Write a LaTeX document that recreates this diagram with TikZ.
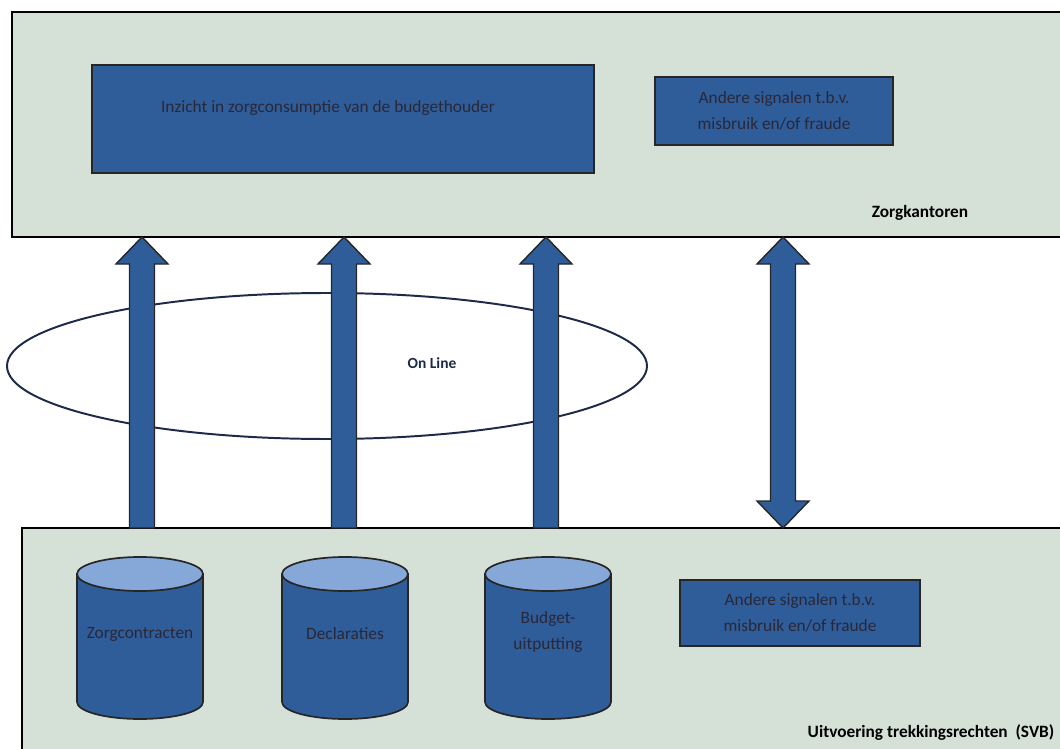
\documentclass[tikz,border=0pt]{standalone}
\usepackage{fontspec}
\setmainfont{Carlito}
\usepackage{xcolor}
\usepackage{tikz}
\usetikzlibrary{calc,fit}
\definecolor{panel}{HTML}{D5E0D6}
\definecolor{block}{HTML}{2F5D99}
\definecolor{blocktop}{HTML}{86A8D8}
\definecolor{dimtext}{HTML}{2A2738}
\definecolor{navy}{HTML}{1E2B48}
\tikzset{
  panel/.style={draw=black, line width=1.6pt, fill=panel, inner sep=0pt, outer sep=0pt},
  block/.style={draw=black!85, line width=1.2pt, fill=block, inner sep=0pt, outer sep=0pt},
  boxtxt/.style={text=dimtext, font=\fontsize{12.3}{18}\selectfont, align=center},
  title/.style={text=black, font=\bfseries\fontsize{12.3}{14}\selectfont},
  fat/.style={draw=black!85, line width=1pt, fill=block, line join=miter},
  cyl/.style={draw=black!85, line width=1.2pt, fill=block},
  cyltop/.style={draw=black!85, line width=1.2pt, fill=blocktop},
  ring/.style={draw=navy, line width=1.4pt},
}
% fat block arrows, tip at #2 (and #1)
\newcommand\fatup[2]{%
  \path[fat] ($(#1)+(-12.5,0)$) -- ($(#2)+(-12.5,27)$) -- ($(#2)+(-26,27)$) -- (#2)
    -- ($(#2)+(26,27)$) -- ($(#2)+(12.5,27)$) -- ($(#1)+(12.5,0)$) -- cycle;}
\newcommand\fatboth[2]{%
  \path[fat] (#1) -- ($(#1)+(-26,-27)$) -- ($(#1)+(-12.5,-27)$) -- ($(#2)+(-12.5,27)$)
    -- ($(#2)+(-26,27)$) -- (#2) -- ($(#2)+(26,27)$) -- ($(#2)+(12.5,27)$)
    -- ($(#1)+(12.5,-27)$) -- ($(#1)+(26,-27)$) -- cycle;}
\newcommand\dbcyl[1]{%
  \path[cyl] (#1-63,574) -- (#1-63,702) arc[start angle=180, end angle=0, x radius=63, y radius=17]
    -- (#1+63,574) -- cycle;
  \path[cyltop] (#1,574) ellipse [x radius=63, y radius=17];}

\begin{document}
\begin{tikzpicture}[x=0.025cm, y=-0.025cm]
  \useasboundingbox (0,0) rectangle (1060,749);
  % panels
  \node[panel, fit={(12,12) (1080,237)}] (zk) {};
  \node[panel, fit={(22,528) (1080,770)}] (svb) {};
  \node[title] (zktitle) at (920,213) {Zorgkantoren};
  \node[title] (svbtitle) at (931,733) {Uitvoering trekkingsrechten\ \ (SVB)};
  % boxes
  \node[block, fit={(92,65) (594,173)}] (inzicht) {};
  \node[block, fit={(655,77) (893,145)}] (andere) {};
  \node[block, fit={(680,580) (920,646)}] (andere2) {};
  \node[boxtxt] (inzichttxt) at (328,108) {Inzicht in zorgconsumptie van de budgethouder};
  \node[boxtxt] (anderetxt) at (andere) {Andere signalen t.b.v.\\ misbruik en/of fraude};
  \node[boxtxt] (andere2txt) at (andere2) {Andere signalen t.b.v.\\ misbruik en/of fraude};
  % databases
  \foreach \xx in {140,345,548} \dbcyl{\xx};
  \node[boxtxt] (contr) at (140,634) {Zorgcontracten};
  \node[boxtxt] (decl) at (345,634) {Declaraties};
  \node[boxtxt] (budget) at (548,632) {Budget-\\uitputting};
  % on line
  \draw[ring] (327,366) ellipse [x radius=320, y radius=73];
  \node[text=navy, font=\bfseries\fontsize{11}{13}\selectfont] (online) at (432,363) {On Line};
  % arrows
  \foreach \n/\xx in {1/142,2/344,3/546,4/783} {
    \coordinate (b\n) at (\xx,0 |- svb.north);
    \coordinate (t\n) at (\xx,0 |- zk.south);
  }
  \fatup{b1}{t1}
  \fatup{b2}{t2}
  \fatup{b3}{t3}
  \fatboth{b4}{t4}
\end{tikzpicture}
\end{document}
